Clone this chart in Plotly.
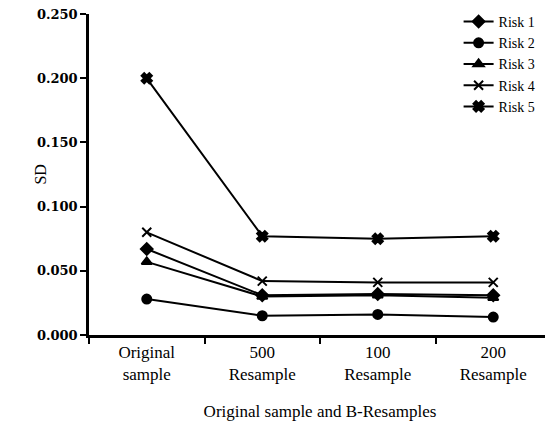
import plotly.graph_objects as go

categories = ["Original<br>sample", "500<br>Resample", "100<br>Resample", "200<br>Resample"]
risk1 = [0.067, 0.031, 0.032, 0.031]
risk2 = [0.028, 0.015, 0.016, 0.014]
risk3 = [0.057, 0.030, 0.031, 0.029]
risk4 = [0.080, 0.042, 0.041, 0.041]
risk5 = [0.200, 0.077, 0.075, 0.077]
series_names = ["Risk 1", "Risk 2", "Risk 3", "Risk 4", "Risk 5"]
y_ticks = [0.0, 0.05, 0.10, 0.15, 0.20, 0.25]
y_ticktext = ["0.000", "0.050", "0.100", "0.150", "0.200", "0.250"]

symbols = ["diamond", "circle", "triangle-up", "x-thin-open", "x"]
sizes = [9, 9, 9, 9, 9]

fig = go.Figure()
for name, vals, sym, sz in zip(series_names, [risk1, risk2, risk3, risk4, risk5], symbols, sizes):
    fig.add_trace(go.Scatter(
        x=categories, y=vals, name=name, mode="lines+markers",
        line=dict(color="black", width=2),
        marker=dict(symbol=sym, size=sz, color="black",
                    line=dict(color="black", width=2)),
    ))

font = "Liberation Serif"
fig.update_layout(
    width=545, height=415,
    margin=dict(l=81, r=2, t=6, b=88, autoexpand=False),
    paper_bgcolor="white", plot_bgcolor="white",
    font=dict(family=font, color="black", size=16),
    showlegend=True,
    legend=dict(x=0.80, y=1.025, xanchor="left", yanchor="top",
                bgcolor="rgba(0,0,0,0)", font=dict(size=14, family=font),
                tracegroupgap=0, itemwidth=30),
    annotations=[dict(text="SD", textangle=-90, xref="paper", yref="paper",
                      x=-0.106, y=0.5, xanchor="center", yanchor="middle",
                      showarrow=False, font=dict(family=font, size=16))],
)
fig.update_xaxes(
    type="category", showgrid=False, zeroline=False, automargin=False,
    showline=True, linecolor="black", linewidth=2.5,
    ticks="outside", tickson="boundaries", ticklen=6, tickwidth=2, tickcolor="black",
    tickfont=dict(family=font, size=17),
    title=dict(text="Original sample and B-Resamples", font=dict(family=font, size=17), standoff=22),
    range=[-0.5, 3.5],
)
fig.update_yaxes(
    range=[0, 0.2501], showgrid=False, zeroline=False, automargin=False,
    showline=True, linecolor="black", linewidth=2.5,
    ticks="outside", ticklen=6, tickwidth=2, tickcolor="black",
    tickmode="array", tickvals=y_ticks, ticktext=y_ticktext,
    ticklabeloverflow="allow",
    tickfont=dict(family="DejaVu Serif", size=13, weight=700),
)
fig.write_html("out.html")
